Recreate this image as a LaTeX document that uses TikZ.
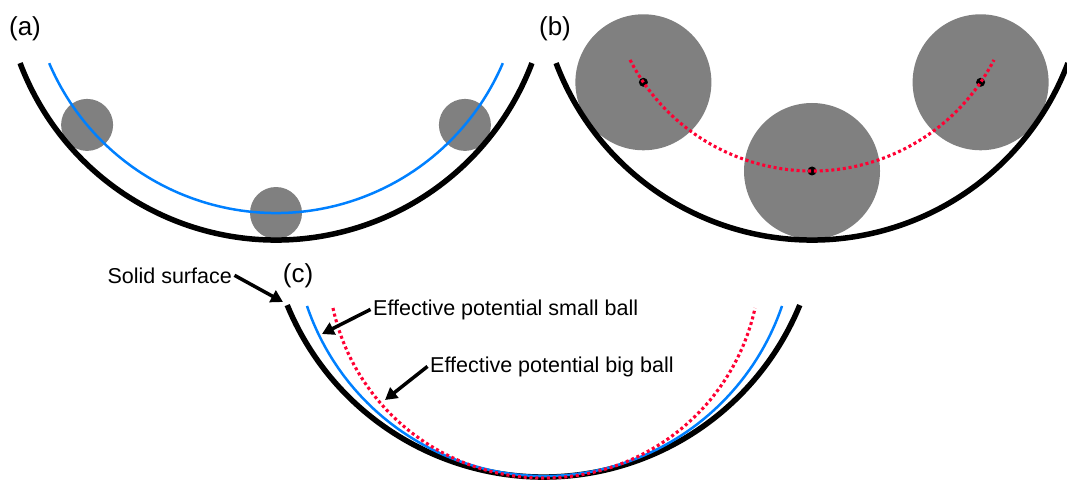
\documentclass[tikz,border=0pt]{standalone}
\usepackage{fontspec}
\setmainfont{Liberation Sans}
\usetikzlibrary{arrows.meta}
\definecolor{potblue}{RGB}{0,128,255}
\definecolor{potred}{RGB}{255,0,51}
\definecolor{ballgray}{RGB}{128,128,128}
\begin{document}
\begin{tikzpicture}[x=1pt,y=1pt,
    surface/.style={line width=5.5pt,black},
    potsmall/.style={line width=2.5pt,potblue},
    potbig/.style={line width=3.1pt,potred,dash pattern=on 3pt off 2.8pt},
    ball/.style={circle,fill=ballgray,inner sep=0pt,minimum size=#1},
    centre/.style={circle,fill=black,inner sep=0pt,minimum size=9pt},
    tag/.style={font=\fontsize{26}{30}\selectfont,anchor=base},
    note/.style={font=\fontsize{21.5}{26}\selectfont,inner sep=2.5pt},
    pointer/.style={line width=3.5pt,-{Triangle[length=12pt,width=13pt]}}]
  \useasboundingbox (0,0) rectangle (1067,-481);
  \coordinate (ca) at (276,33.6);
  \coordinate (cb) at (812,33.6);
  \coordinate (cc) at (543.5,-200);
  \coordinate (ccs) at (544.5,-225.1);
  \coordinate (ccb) at (544,-262);
  \node[tag] (la) at (25,-36) {(a)};
  \node[tag] (lb) at (555,-36) {(b)};
  \node[tag] (lc) at (298,-282) {(c)};
  \node[ball=52pt] (a1) at ([shift={(220:246.6)}]ca) {};
  \node[ball=52pt] (a2) at ([shift={(270:246.6)}]ca) {};
  \node[ball=52pt] (a3) at ([shift={(320:246.6)}]ca) {};
  \draw[surface] ([shift={(200.7:273.6)}]ca) arc[start angle=200.7,end angle=339.3,radius=273.6];
  \draw[potsmall] ([shift={(203.1:246.6)}]ca) arc[start angle=203.1,end angle=336.9,radius=246.6];
  \node[ball=136pt] (b1) at ([shift={(214.5:204.6)}]cb) {};
  \node[ball=136pt] (b2) at ([shift={(270:204.6)}]cb) {};
  \node[ball=136pt] (b3) at ([shift={(325.5:204.6)}]cb) {};
  \node[centre] at (b1) {};
  \node[centre] at (b2) {};
  \node[centre] at (b3) {};
  \draw[surface] ([shift={(200.7:273.6)}]cb) arc[start angle=200.7,end angle=339.3,radius=273.6];
  \draw[potbig] ([shift={(207.2:204.6)}]cb) arc[start angle=207.2,end angle=332.8,radius=204.6];
  \draw[surface] ([shift={(202.3:277)}]cc) arc[start angle=202.3,end angle=337.7,radius=277];
  \draw[potsmall] ([shift={(198.8:250.9)}]ccs) arc[start angle=198.8,end angle=341.2,radius=250.9];
  \draw[potbig] ([shift={(192.3:216)}]ccb) arc[start angle=192.3,end angle=347.7,radius=216];
  \node[note,anchor=base east] (solid) at (234.5,-283) {Solid surface};
  \node[note,anchor=base west] (small) at (370.5,-315) {Effective potential small ball};
  \node[note,anchor=base west] (big) at (427.5,-372) {Effective potential big ball};
  \coordinate (solidtip) at (283,-302);
  \coordinate (smalltip) at (322,-334);
  \coordinate (bigtip) at (385,-400);
  \draw[pointer] (solid.east) -- (solidtip);
  \draw[pointer] (small.west) -- (smalltip);
  \draw[pointer] (big.west) -- (bigtip);
\end{tikzpicture}
\end{document}
